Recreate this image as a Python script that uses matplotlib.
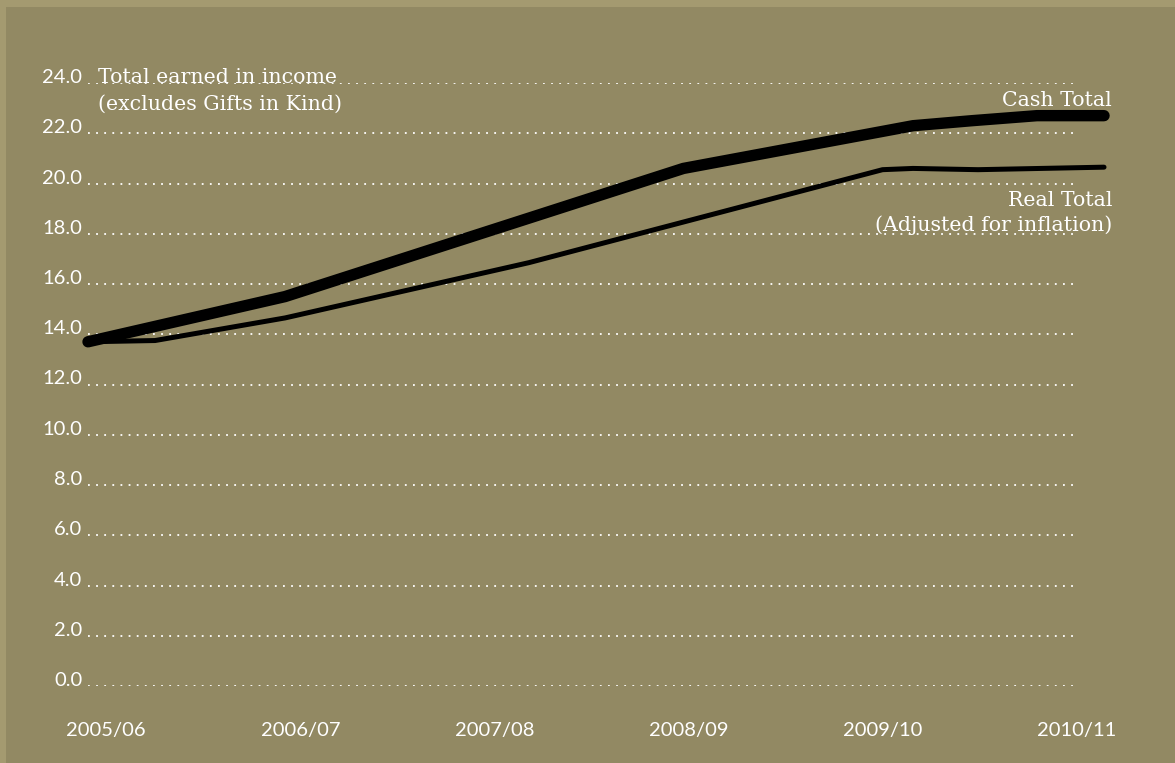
import matplotlib
matplotlib.use("Agg")
import matplotlib.pyplot as plt
from matplotlib.patches import Rectangle
from matplotlib.transforms import ScaledTranslation

# data (x in years from the first 2005/06 point)
cash_x = [0.0, 0.97, 2.93, 4.06, 4.35, 4.67, 5.0]
cash_y = [13.7, 15.5, 20.6, 22.3, 22.5, 22.7, 22.7]
real_x = [0.0, 0.33, 0.65, 0.97, 2.17, 3.91, 4.06, 4.38, 5.0]
real_y = [13.7, 13.75, 14.2, 14.65, 16.85, 20.55, 20.6, 20.55, 20.65]

years = ["2005/06", "2006/07", "2007/08", "2008/09", "2009/10", "2010/11"]
year_pos = [0.088, 1.045, 2.002, 2.958, 3.910, 4.867]
y_ticks = [0, 2, 4, 6, 8, 10, 12, 14, 16, 18, 20, 22, 24]

bg = "#928963"
border = "#a49a70"
W, H = 1175, 763

fig = plt.figure(figsize=(W / 100, H / 100), dpi=100)
fig.patch.set_facecolor(border)
fig.patches.append(Rectangle((6 / W, 0), 1, (H - 7) / H, transform=fig.transFigure,
                             facecolor=bg, edgecolor="none", zorder=-10))

# axes from x=88..1077 px, y=0 at 686 px, 24 at 83 px
ax = fig.add_axes([88 / W, (H - 686) / H, (1077 - 88) / W, (686 - 83) / H])
ax.set_facecolor("none")
ax.set_xlim(0, (1077 - 88) / 203.8)
ax.set_ylim(0, 24)
for s in ax.spines.values():
    s.set_visible(False)

ax.set_yticks(y_ticks)
ax.set_yticklabels([f"{v:.1f}" for v in y_ticks], fontfamily="Lato", fontsize=14.5, color="white")
shift = ScaledTranslation(0, -3.5 / 100, fig.dpi_scale_trans)
for lab in ax.get_yticklabels():
    lab.set_va("baseline")
    lab.set_transform(lab.get_transform() + shift)
ax.tick_params(axis="y", length=0, pad=4)
ax.yaxis.grid(True, color="white", linestyle=(0, (1, 3.5)), linewidth=1.3)
ax.set_axisbelow(True)

ax.set_xticks(year_pos)
ax.set_xticklabels(years, fontfamily="Lato", fontsize=14.5, color="white")
ax.tick_params(axis="x", length=0, pad=26)

ax.plot(cash_x, cash_y, color="black", linewidth=8.2, solid_capstyle="round",
        solid_joinstyle="round", clip_on=False, zorder=3)
ax.plot(real_x, real_y, color="black", linewidth=3.6, solid_capstyle="round",
        solid_joinstyle="round", clip_on=False, zorder=3)

serif = "DejaVu Serif"
fs = 14.8
ax.text(0.05, 24.0, "Total earned in income", fontfamily=serif, fontsize=fs,
        color="white", va="baseline", ha="left")
ax.text(0.05, 22.95, "(excludes Gifts in Kind)", fontfamily=serif, fontsize=fs,
        color="white", va="baseline", ha="left")
ax.text(5.04, 23.1, "Cash Total", fontfamily=serif, fontsize=fs,
        color="white", va="baseline", ha="right", clip_on=False)
ax.text(5.04, 19.1, "Real Total", fontfamily=serif, fontsize=fs,
        color="white", va="baseline", ha="right", clip_on=False)
ax.text(5.04, 18.1, "(Adjusted for inflation)", fontfamily=serif, fontsize=fs,
        color="white", va="baseline", ha="right", clip_on=False)

fig.savefig("out.png", dpi=100, facecolor=fig.get_facecolor())
